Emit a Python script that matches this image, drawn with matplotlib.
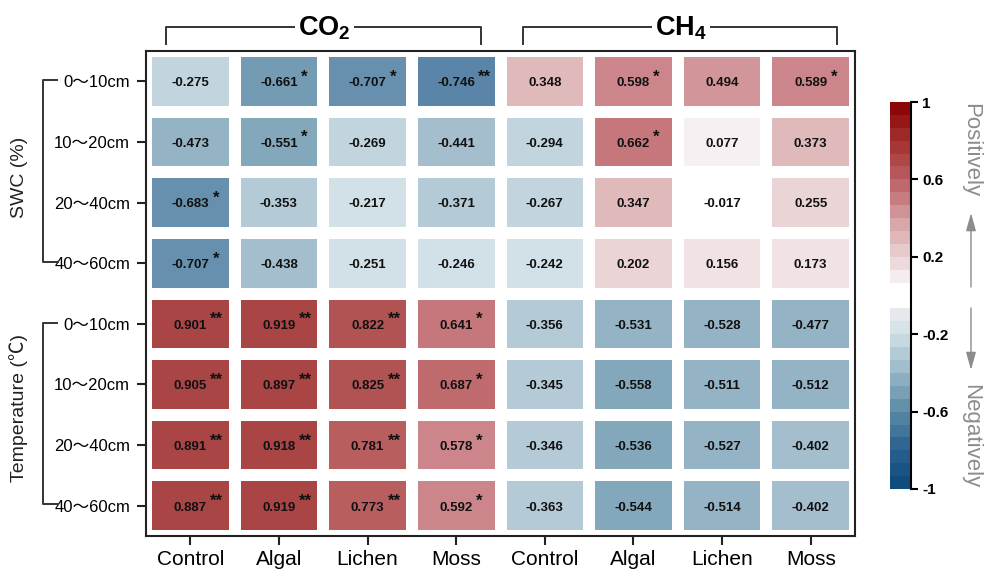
import numpy as np
import matplotlib
matplotlib.use("Agg")
import matplotlib.pyplot as plt
from matplotlib.colors import LinearSegmentedColormap, ListedColormap, BoundaryNorm, to_rgb
from matplotlib.lines import Line2D
from matplotlib.patches import FancyArrowPatch

plt.rcParams['font.family'] = ['Liberation Sans', 'Noto Sans CJK SC', 'DejaVu Sans']
plt.rcParams['mathtext.fontset'] = 'custom'
plt.rcParams['mathtext.rm'] = 'Liberation Sans'
plt.rcParams['mathtext.bf'] = 'Liberation Sans:bold'

# ---- data ----
treatments = ["Control", "Algal", "Lichen", "Moss", "Control", "Algal", "Lichen", "Moss"]
depths = ["0～10cm", "10～20cm", "20～40cm", "40～60cm"]
row_labels = depths + depths
gas_groups = ["CO$_\\mathbf{2}$", "CH$_\\mathbf{4}$"]
factor_groups = ["SWC (%)", "Temperature (℃)"]

corr = np.array([
    [-0.275, -0.661, -0.707, -0.746, 0.348, 0.598, 0.494, 0.589],
    [-0.473, -0.551, -0.269, -0.441, -0.294, 0.662, 0.077, 0.373],
    [-0.683, -0.353, -0.217, -0.371, -0.267, 0.347, -0.017, 0.255],
    [-0.707, -0.438, -0.251, -0.246, -0.242, 0.202, 0.156, 0.173],
    [0.901, 0.919, 0.822, 0.641, -0.356, -0.531, -0.528, -0.477],
    [0.905, 0.897, 0.825, 0.687, -0.345, -0.558, -0.511, -0.512],
    [0.891, 0.918, 0.781, 0.578, -0.346, -0.536, -0.527, -0.402],
    [0.887, 0.919, 0.773, 0.592, -0.363, -0.544, -0.514, -0.402],
])
stars = [
    ["", "*", "*", "**", "", "*", "", "*"],
    ["", "*", "", "", "", "*", "", ""],
    ["*", "", "", "", "", "", "", ""],
    ["*", "", "", "", "", "", "", ""],
    ["**", "**", "**", "*", "", "", "", ""],
    ["**", "**", "**", "*", "", "", "", ""],
    ["**", "**", "**", "*", "", "", "", ""],
    ["**", "**", "**", "*", "", "", "", ""],
]
cbar_ticks = [-1, -0.6, -0.2, 0.2, 0.6, 1]
cbar_ticklabels = ["-1", "-0.6", "-0.2", "0.2", "0.6", "1"]

# ---- colours ----
anchors = [(-1.0, "#0b4a7a"), (-0.8, "#2a6090"), (-0.6, "#5a8aa4"), (-0.4, "#98b6c8"),
           (-0.2, "#cfe0e6"), (-0.067, "#ececf0"), (0.0, "#ffffff"), (0.1, "#f4ecee"),
           (0.2, "#ead2d4"), (0.4, "#d49ea0"), (0.6, "#bb5e64"), (0.8, "#a43030"),
           (1.0, "#880000")]
base = LinearSegmentedColormap.from_list(
    "rb", [((v + 1) / 2, c) for v, c in anchors])
bounds = np.linspace(-1, 1, 31)
mids = (bounds[:-1] + bounds[1:]) / 2
bar_cols = []
for m in mids:
    if abs(m) < 0.067:
        bar_cols.append((1, 1, 1))
    else:
        bar_cols.append(to_rgb(base((m + 1) / 2)))
bar_cmap = ListedColormap(bar_cols)
alpha = 0.8
cell_cmap = ListedColormap([tuple(alpha * np.array(c) + (1 - alpha)) for c in bar_cols])
norm = BoundaryNorm(bounds, len(bar_cols))

W, H = 985, 570
fig = plt.figure(figsize=(W / 100, H / 100), dpi=100)


def fx(x):
    return x / W


def fy(y):
    return 1 - y / H


# ---- heatmap ----
ax = fig.add_axes([fx(146), fy(536), fx(855) - fx(146), fy(51) - fy(536)])
ax.pcolormesh(np.arange(9), np.arange(9), corr, cmap=cell_cmap, norm=norm,
              edgecolors="white", linewidth=7.5)
ax.set_xlim(0, 8)
ax.set_ylim(8, 0)
for i in range(8):
    for j in range(8):
        v = corr[i, j]
        ax.text(j + 0.5, i + 0.53, f"{v:.3f}", ha="center", va="center",
                fontsize=9.5, fontweight="bold", color="#111111")
        if stars[i][j]:
            off = 0.25 if v < 0 else 0.225
            ax.text(j + 0.5 + off, i + 0.43, stars[i][j], ha="left", va="center",
                    fontsize=12, fontweight="bold", color="#111111")

ax.set_xticks(np.arange(8) + 0.5)
ax.set_xticklabels(treatments, fontsize=15)
ax.set_yticks(np.arange(8) + 0.5)
ax.set_yticklabels(row_labels, fontsize=12)
ax.tick_params(direction="out", length=6.5, width=1.5, color="#222222", pad=5)
ax.tick_params(axis="x", pad=3.5)
for s in ax.spines.values():
    s.set_linewidth(1.5)
    s.set_color("#222222")

# ---- colour bar ----
cax = fig.add_axes([fx(890), fy(489), fx(911) - fx(890), fy(102) - fy(489)])
cax.pcolormesh([0, 1], bounds, mids.reshape(-1, 1), cmap=bar_cmap, norm=norm)
cax.set_ylim(-1, 1)
cax.set_xlim(0, 1)
cax.set_xticks([])
cax.yaxis.tick_right()
cax.set_yticks(cbar_ticks)
cax.set_yticklabels(cbar_ticklabels, fontsize=11, fontweight="bold")
cax.tick_params(axis="y", direction="out", length=5, width=1.5, pad=3)
for k in ["top", "bottom", "left"]:
    cax.spines[k].set_visible(False)
cax.spines["right"].set_linewidth(1.5)

# ---- brackets ----
lc = "#333333"


def line(xs, ys):
    fig.add_artist(Line2D([fx(x) for x in xs], [fy(y) for y in ys],
                          color=lc, lw=1.4, transform=fig.transFigure))


for (x0, x1), name in zip([(166, 481), (523, 837)], gas_groups):
    line([x0, x0, x1, x1], [44, 27, 27, 44])
    fig.text(fx((x0 + x1) / 2 + 1), fy(28), name, ha="center", va="center",
             fontsize=19.5, fontweight="bold",
             bbox=dict(facecolor="white", edgecolor="none", pad=2))

for (y0, y1), name, yc in zip([(80, 262), (323, 504)], factor_groups, [177, 408]):
    line([57, 43, 43, 58], [y0, y0, y1, y1])
    fig.text(fx(19), fy(yc), name, rotation=90, ha="center", va="center",
             fontsize=14, color="#222222")

# ---- direction labels ----
gray = "#8c8c8c"
fig.text(fx(971), fy(150), "Positively", rotation=-90, ha="center", va="center",
         fontsize=16, color=gray)
fig.text(fx(971), fy(436), "Negatively", rotation=-90, ha="center", va="center",
         fontsize=16, color=gray)
for ya, yb in [(287, 213), (308, 370)]:
    fig.add_artist(FancyArrowPatch((fx(971), fy(ya)), (fx(971), fy(yb)),
                                   transform=fig.transFigure, color=gray, lw=1,
                                   arrowstyle="-|>,head_length=0.9,head_width=0.25",
                                   mutation_scale=12, shrinkA=0, shrinkB=0))

fig.savefig("out.png", dpi=100, facecolor="white")
